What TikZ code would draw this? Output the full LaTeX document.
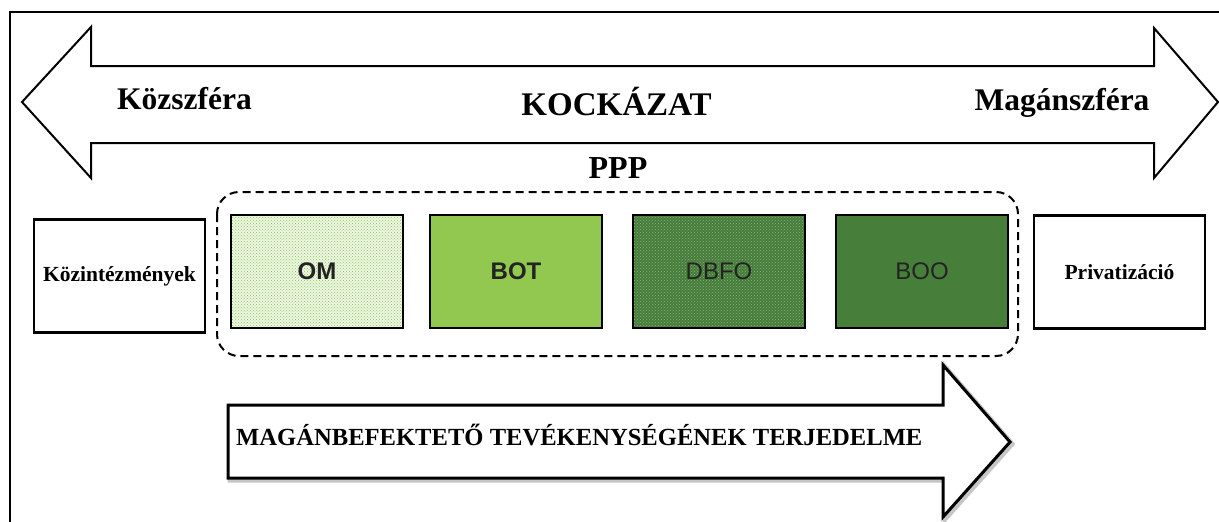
\documentclass[tikz,border=0pt]{standalone}
\usepackage{fontspec}
\setmainfont{Liberation Serif}
\newfontfamily\boxfont{Liberation Sans}
\usepackage{tikz}
\usetikzlibrary{patterns}
\usepackage{xcolor}
\definecolor{omgreen}{RGB}{140,200,85}
\definecolor{omtint}{RGB}{238,246,228}
\definecolor{botgreen}{RGB}{146,200,80}
\definecolor{boogreen}{RGB}{70,126,58}
\definecolor{boxtext}{RGB}{35,35,35}
\tikzstyle{frame} = [line width=2pt]
\tikzstyle{side box} = [draw, line width=2.5pt, minimum width=171pt, minimum height=113pt, inner sep=0pt]
\tikzstyle{ppp box} = [draw, line width=2.5pt, minimum width=172pt, minimum height=113pt, inner sep=0pt, text=boxtext, font=\boxfont\fontsize{24}{24}\selectfont]

\begin{document}
\begin{tikzpicture}[x=1pt, y=-1pt]
\useasboundingbox (0,0) rectangle (1219,522);
\clip (0,0) rectangle (1219,522);

% Frame
\draw[frame] (10,12) rectangle (1260,560);

% Risk arrow (both ways)
\draw[line width=2pt, fill=white] (22,102) -- (91,27) -- (91,66) -- (1154,66) -- (1154,28)
  -- (1218,102) -- (1154,178) -- (1154,143) -- (91,143) -- (91,178) -- cycle;

% Labels
\node[anchor=base, font=\bfseries\fontsize{31.5}{31.5}\selectfont] (kozszfera) at (184.5,109) {Közszféra};
\node[anchor=base, font=\bfseries\fontsize{33}{33}\selectfont] (kockazat) at (616.5,115) {KOCKÁZAT};
\node[anchor=base, font=\bfseries\fontsize{31.5}{31.5}\selectfont] (maganszfera) at (1062,110) {Magánszféra};
\node[anchor=base, font=\bfseries\fontsize{32}{32}\selectfont] (ppp) at (618,178) {PPP};

% PPP group
\draw[line width=2pt, dashed, dash pattern=on 8pt off 5pt, rounded corners=22pt] (217,192) rectangle (1018,356);

% Boxes
\node[side box, font=\bfseries\fontsize{21.5}{21.5}\selectfont] (kozint) at (119.5,276) {Közintézmények};
\node[ppp box, preaction={fill=omtint}, pattern=crosshatch dots, pattern color=omgreen, font=\boxfont\bfseries\fontsize{24}{24}\selectfont] (om) at (317,271.5) {OM};
\node[ppp box, fill=botgreen, font=\boxfont\bfseries\fontsize{24}{24}\selectfont] (bot) at (516,271.5) {BOT};
\node[ppp box, preaction={fill=boogreen}, pattern=crosshatch dots, pattern color=white!35!boogreen] (dbfo) at (719,271.5) {DBFO};
\node[ppp box, fill=boogreen] (boo) at (922,271.5) {BOO};
\node[side box, font=\bfseries\fontsize{21.5}{21.5}\selectfont] (priv) at (1119.5,272) {Privatizáció};

% Private investor arrow
\draw[line width=5pt, gray!45] (230,407) -- (945,407) -- (945,367) -- (1012,444) -- (945,519)
  -- (945,480) -- (230,480) -- cycle;
\draw[line width=3pt, fill=white] (228,405) -- (943,405) -- (943,365) -- (1010,442) -- (943,517)
  -- (943,478) -- (228,478) -- cycle;
\node[anchor=base west, inner sep=0pt, font=\bfseries\fontsize{24.6}{24.6}\selectfont] (terjedelme) at (236,445) {MAGÁNBEFEKTETŐ TEVÉKENYSÉGÉNEK TERJEDELME};
\end{tikzpicture}
\end{document}
